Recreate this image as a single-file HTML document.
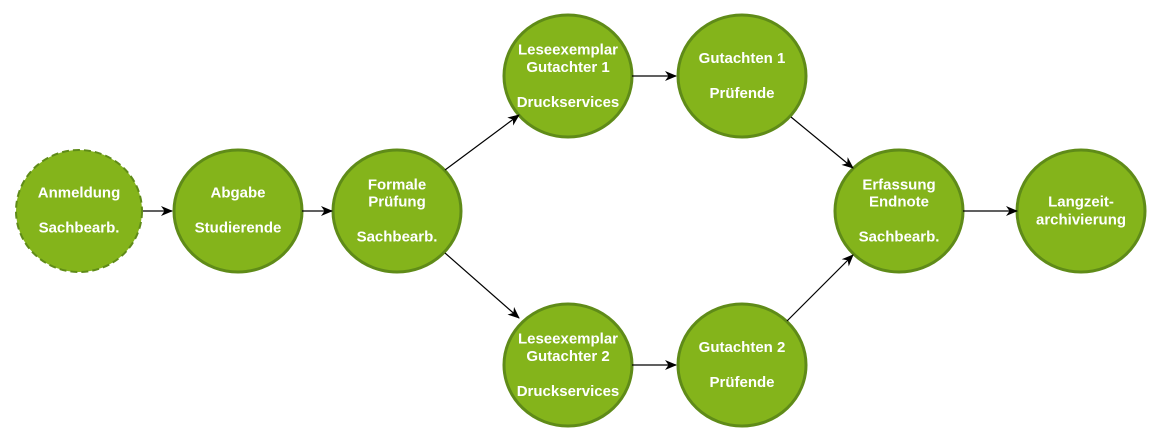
<!DOCTYPE html>
<html><head><meta charset="utf-8"><style>
html,body{margin:0;padding:0;background:#fff;}
svg{display:block;}
text{font-family:"Liberation Sans",Arial,sans-serif;font-weight:bold;font-size:15px;fill:#fff;text-anchor:middle;dominant-baseline:central;}
</style></head><body>
<svg width="1163" height="441" viewBox="0 0 1163 441" xmlns="http://www.w3.org/2000/svg">
<defs><marker id="a" markerWidth="12" markerHeight="10" refX="11" refY="5" orient="auto" markerUnits="userSpaceOnUse"><path d="M0,0 L12,5 L0,10 L3.5,5 z" fill="#000"/></marker></defs>
<g fill="#84b41b" stroke="#5f8b18" stroke-width="3">
<ellipse cx="79" cy="211" rx="63" ry="61" stroke-dasharray="7,4" stroke-width="2"/>
<ellipse cx="238" cy="211" rx="64" ry="61"/>
<ellipse cx="397" cy="211" rx="64" ry="61"/>
<ellipse cx="568" cy="76" rx="64" ry="61"/>
<ellipse cx="742" cy="76" rx="64" ry="61"/>
<ellipse cx="568" cy="365" rx="64" ry="61"/>
<ellipse cx="742" cy="365" rx="64" ry="61"/>
<ellipse cx="899" cy="211" rx="64" ry="61"/>
<ellipse cx="1081" cy="211" rx="64" ry="61"/>
</g>
<g stroke="#000" stroke-width="1.2" marker-end="url(#a)">
<line x1="143" y1="211" x2="172" y2="211"/>
<line x1="302" y1="211" x2="332" y2="211"/>
<line x1="445" y1="170" x2="519" y2="115"/>
<line x1="632" y1="76" x2="676" y2="76"/>
<line x1="791" y1="117" x2="853" y2="168"/>
<line x1="445" y1="253" x2="519" y2="318"/>
<line x1="632" y1="365" x2="676" y2="365"/>
<line x1="787" y1="321" x2="853" y2="255"/>
<line x1="963" y1="211" x2="1017" y2="211"/>
</g>
<text x="79" y="193">Anmeldung</text><text x="79" y="228">Sachbearb.</text>
<text x="238" y="193">Abgabe</text><text x="238" y="228">Studierende</text>
<text x="397" y="185">Formale</text><text x="397" y="202">Prüfung</text><text x="397" y="237">Sachbearb.</text>
<text x="568" y="50">Leseexemplar</text><text x="568" y="67.5">Gutachter 1</text><text x="568" y="102.5">Druckservices</text>
<text x="742" y="58.5">Gutachten 1</text><text x="742" y="93.5">Prüfende</text>
<text x="568" y="339">Leseexemplar</text><text x="568" y="356.5">Gutachter 2</text><text x="568" y="391.5">Druckservices</text>
<text x="742" y="347.5">Gutachten 2</text><text x="742" y="382.5">Prüfende</text>
<text x="899" y="185">Erfassung</text><text x="899" y="202">Endnote</text><text x="899" y="237">Sachbearb.</text>
<text x="1081" y="202">Langzeit-</text><text x="1081" y="220">archivierung</text>
</svg>
</body></html>
